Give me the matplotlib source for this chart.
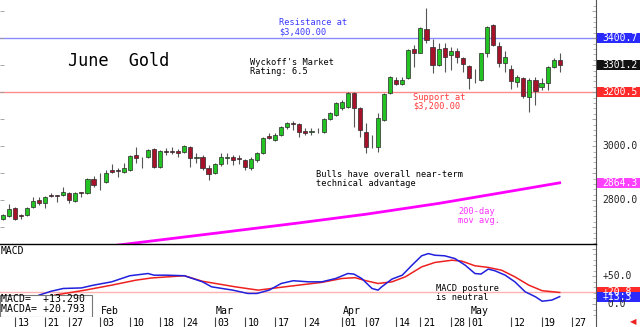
import numpy as np
import matplotlib.pyplot as plt
import matplotlib.transforms as mtransforms
from matplotlib.patches import Rectangle

# daily candles, x = trading day index (0 = Jan 13)
days = list(range(-2, 91))
opens = [2732, 2742, 2770, 2744, 2745, 2773, 2801, 2791, 2821, 2819,
         2819, 2828, 2798, 2830, 2825, 2877, 2870, 2868, 2912, 2913,
         2906, 2912, 2967, 2945, 2959, 2989, 2922, 2984, 2984, 2983,
         2980, 2998, 2955, 2961, 2918, 2900, 2934, 2955, 2961, 2957,
         2949, 2918, 2949, 2974, 3037, 3022, 3041, 3070, 3085, 3082,
         3056, 3052, 3060, 3054, 3100, 3115, 3142, 3146, 3198, 3140,
         3054, 3010, 2998, 3097, 3196, 3247, 3230, 3251, 3359, 3346,
         3433, 3366, 3301, 3362, 3338, 3354, 3325, 3297, 3262, 3245,
         3346, 3449, 3371, 3309, 3285, 3239, 3251, 3181, 3245, 3218,
         3235, 3292, 3319]
highs = [2749, 2786, 2774, 2747, 2776, 2811, 2811, 2815, 2828, 2820,
         2848, 2832, 2830, 2832, 2881, 2889, 2900, 2912, 2934, 2918,
         2937, 2967, 2996, 2961, 2988, 2992, 2986, 2992, 2998, 2988,
         3004, 3001, 2974, 2967, 2930, 2937, 2974, 2974, 2967, 2967,
         2951, 2961, 2980, 3033, 3048, 3048, 3075, 3091, 3094, 3085,
         3066, 3066, 3066, 3103, 3128, 3165, 3171, 3202, 3202, 3144,
         3085, 3041, 3122, 3198, 3260, 3255, 3255, 3359, 3375, 3440,
         3511, 3396, 3383, 3383, 3368, 3362, 3331, 3301, 3285, 3346,
         3445, 3453, 3387, 3353, 3301, 3264, 3257, 3251, 3257, 3251,
         3297, 3325, 3346]
lows = [2727, 2739, 2727, 2729, 2741, 2771, 2781, 2770, 2811, 2795,
        2817, 2788, 2793, 2813, 2823, 2850, 2838, 2862, 2900, 2885,
        2902, 2909, 2937, 2918, 2955, 2918, 2918, 2967, 2971, 2961,
        2974, 2924, 2937, 2912, 2875, 2897, 2927, 2934, 2930, 2934,
        2912, 2912, 2942, 2971, 3025, 3020, 3037, 3063, 3060, 3035,
        3041, 3041, 3048, 3050, 3097, 3112, 3134, 3140, 3072, 3035,
        2974, 2992, 2980, 3094, 3193, 3227, 3227, 3248, 3294, 3344,
        3381, 3272, 3297, 3276, 3282, 3307, 3276, 3210, 3235, 3242,
        3331, 3371, 3292, 3276, 3210, 3220, 3177, 3128, 3152, 3208,
        3208, 3288, 3276]
closes = [2744, 2767, 2730, 2742, 2772, 2798, 2788, 2811, 2816, 2815,
          2831, 2801, 2828, 2826, 2877, 2856, 2870, 2902, 2906, 2909,
          2918, 2964, 2955, 2945, 2986, 2922, 2983, 2980, 2979, 2976,
          3001, 2955, 2959, 2918, 2897, 2934, 2959, 2959, 2949, 2953,
          2922, 2951, 2974, 3029, 3030, 3041, 3070, 3085, 3082, 3054,
          3048, 3058, 3060, 3100, 3124, 3159, 3165, 3198, 3140, 3060,
          2998, 3010, 3103, 3193, 3257, 3232, 3247, 3356, 3344, 3437,
          3393, 3301, 3359, 3331, 3354, 3329, 3304, 3251, 3262, 3344,
          3443, 3375, 3307, 3331, 3243, 3257, 3186, 3245, 3206, 3235,
          3294, 3319, 3301]

# 200-day moving average
ma_days = [12, 34, 47, 58, 70, 80, 90]
ma_vals = [2620, 2680, 2716, 2748, 2788, 2826, 2864.3]

# MACD (blue) and its average (red)
macd_days = [4, 6, 8, 11, 13, 16, 19, 22, 23, 25, 28, 31, 32.5, 36, 38.5, 40,
             42, 44, 46, 48.5, 50.7, 53, 55, 56, 57.3, 59, 60, 60.6, 62.3, 64,
             65.6, 67.2, 68.3, 69.4, 71, 72.7, 74.4, 76, 77, 78.2, 79.3, 81,
             82.6, 84.3, 86, 87.1, 88.7, 90]
macd_vals = [16, 23, 28, 29, 34, 40, 51, 55, 52, 52, 51, 40, 31, 25, 19, 19,
             25, 37, 42, 40, 40, 46, 55, 54, 46, 28, 25, 31, 45, 52,
             70, 87, 91, 88, 87, 82, 70, 55, 54, 63, 60, 52,
             40, 22, 13, 5, 7, 13.3]
macda_days = [6.6, 11.6, 16, 20, 22.6, 28, 31, 36.4, 40.2, 44.6, 50.7, 54, 56.2,
              58, 60, 62.3, 64.5, 67.2, 69.4, 72.2, 73.8, 76, 78.2, 80.4, 82.6,
              84.9, 87.1, 90]
macda_vals = [16, 25, 34, 43, 47, 51, 41, 31, 25, 31, 39, 46, 47.5,
              42, 37, 40, 49, 67, 75, 79, 77.5, 69, 66, 61, 49,
              34, 24, 20.8]

tick_days = [0, 5, 9, 14, 19, 24, 28, 33, 38, 43, 48, 54, 58, 63, 67, 72, 75, 82, 87, 92]
tick_labels = ['13', '21', '27', '03', '10', '18', '24', '03', '10', '17', '24',
               '01', '07', '14', '21', '28', '01', '12', '19', '27']
month_days = [14, 33, 54, 75]
month_labels = ['Feb', 'Mar', 'Apr', 'May']

MONO = 'DejaVu Sans Mono'
W, H = 640, 327
xlo, xhi = -2.45, 96.0

fig = plt.figure(figsize=(6.4, 3.27), dpi=100)
ax = fig.add_axes([0, 83 / H, 596 / W, 244 / H])
axm = fig.add_axes([0, 10 / H, 596 / W, 73 / H])
axd = fig.add_axes([0, 0, 596 / W, 10 / H])

for a in (ax, axm, axd):
    a.set_xlim(xlo, xhi)
    a.tick_params(axis='x', bottom=False, labelbottom=False)
    for s in ('top', 'left', 'bottom'):
        a.spines[s].set_visible(False)
    a.spines['right'].set_color('#555555')
    a.spines['right'].set_linewidth(0.8)

ax.set_ylim(2637.7, 3541.5)
axm.set_ylim(-23.5, 108.3)
axm.spines['top'].set_visible(True)
axm.spines['top'].set_color('black')
axm.spines['top'].set_linewidth(1.0)

# faint ticks: every 100 on the left, dense on the right
ax.set_yticks(np.arange(2700, 3600, 100))
ax.set_yticks(np.arange(2640, 3540, 20), minor=True)
ax.tick_params(axis='y', which='major', left=True, right=True, labelleft=False,
               labelright=False, direction='in', length=3, color='#999999', width=0.6)
ax.tick_params(axis='y', which='minor', left=False, right=True,
               direction='in', length=2, color='#999999', width=0.5)
axm.set_yticks([0, 50, 100])
axm.set_yticks(np.arange(-20, 110, 10), minor=True)
axm.tick_params(axis='y', which='major', left=False, right=True, labelleft=False,
                labelright=False, direction='in', length=3, color='#999999', width=0.6)
axm.tick_params(axis='y', which='minor', left=False, right=True,
                direction='in', length=2, color='#999999', width=0.5)
axd.set_yticks([])

# candles
o = np.array(opens, float)
c = np.array(closes, float)
colors = np.where(c > o, '#22c322', np.where(c < o, '#a5122a', '#888888'))
ax.vlines(days, lows, highs, color='#555555', linewidth=0.8, zorder=2)
for d, op, cl, col in zip(days, o, c, colors):
    if op == cl:
        continue
    ax.bar(d, cl - op, bottom=op, width=0.68, color=col, edgecolor='#2a2a2a',
           linewidth=0.5, zorder=3)

ax.axhline(3400.7, color='#8a8aff', linewidth=1.0, zorder=1)
ax.axhline(3200.5, color='#ff8c8c', linewidth=1.0, zorder=1)
ax.plot(ma_days, ma_vals, color='#ff00ff', linewidth=2.0, zorder=2)

# annotations
ax.text(8.7, 3315, 'June  Gold', family=MONO, fontsize=12.2, va='center', ha='left')
ax.text(43.6, 3440, 'Resistance at\n$3,400.00', family=MONO, fontsize=6.2,
        color='#3a3aff', va='center', ha='left', linespacing=1.0)
ax.text(38.8, 3294, "Wyckoff's Market\nRating: 6.5", family=MONO, fontsize=6.2,
        va='center', ha='left', linespacing=1.0)
ax.text(65.8, 3164, 'Support at\n$3,200.00', family=MONO, fontsize=6.2,
        color='#ff3a3a', va='center', ha='left', linespacing=1.0)
ax.text(49.8, 2879, 'Bulls have overall near-term\ntechnical advantage', family=MONO,
        fontsize=6.2, va='center', ha='left', linespacing=1.0)
ax.text(73.2, 2740, '200-day\nmov avg.', family=MONO, fontsize=6.2, color='#ff30ff',
        va='center', ha='left', linespacing=1.0)

# MACD panel
axm.axhline(20.8, color='#ffb0b0', linewidth=1.0, zorder=1)
axm.plot(macda_days, macda_vals, color='#ee2020', linewidth=1.1, zorder=2)
axm.plot(macd_days, macd_vals, color='#2020dd', linewidth=1.1, zorder=3)
axm.text(-2.3, 95.7, 'MACD', family=MONO, fontsize=7.0, va='center', ha='left')
axm.text(69.5, 19.3, 'MACD posture\nis neutral', family=MONO, fontsize=6.2,
         va='center', ha='left', linespacing=1.0, zorder=4)
axm.add_patch(Rectangle((xlo, -23.5), (90 - 13.3) / 6.05 - xlo, 16.2 + 23.5,
                        facecolor='white', edgecolor='#777777', linewidth=0.8, zorder=5))
axm.text(-2.3, -0.5, 'MACD=  +13.290\nMACDA= +20.793', family=MONO, fontsize=7.1,
         va='center', ha='left', linespacing=1.05, zorder=6)
for d, lab in zip(month_days, month_labels):
    axm.text(d + 0.25, -12.6, lab, family=MONO, fontsize=7.1, va='center', ha='left', zorder=4)

# date strip
axd.set_ylim(0, 1)
axd.vlines(tick_days, 0, 1, color='#444444', linewidth=0.8)
for d, lab in zip(tick_days, tick_labels):
    axd.text(d + 0.4, 0.45, lab, family=MONO, fontsize=7.1, va='center', ha='left')

# right-hand price labels
tr_main = mtransforms.blended_transform_factory(fig.transFigure, ax.transData)
tr_macd = mtransforms.blended_transform_factory(fig.transFigure, axm.transData)
xl = 602.5 / W


def tag(tr, val, txt, fc, half):
    if fc is not None:
        fig.add_artist(Rectangle((597 / W, val - half), 43 / W, 2 * half, transform=tr,
                                 facecolor=fc, edgecolor='none'))
    fig.text(xl, val, txt, transform=tr, family=MONO, fontsize=7.0,
             color='#222222' if fc is None else 'white', ha='left', va='center')


for val, txt, fc in [(3400.7, '3400.7', '#2a2aff'), (3301.2, '3301.2', '#111111'),
                     (3200.5, '3200.5', '#ff2a2a'), (3000.0, '3000.0', None),
                     (2864.3, '2864.3', '#ff40ff'), (2800.0, '2800.0', None)]:
    tag(tr_main, val, txt, fc, 18.5)
tag(tr_macd, 50, '+50.0', None, 9)
tag(tr_macd, 0, ' 0.0', None, 9)
tag(tr_macd, 20.8, '+20.8', '#ff2a2a', 9)
tag(tr_macd, 13.3, '+13.3', '#2a2aff', 9)
fig.text(633 / W, 5 / H, '\u25c0', color='#ee2020', fontsize=6, ha='center', va='center')

fig.savefig('out.png', dpi=100)
